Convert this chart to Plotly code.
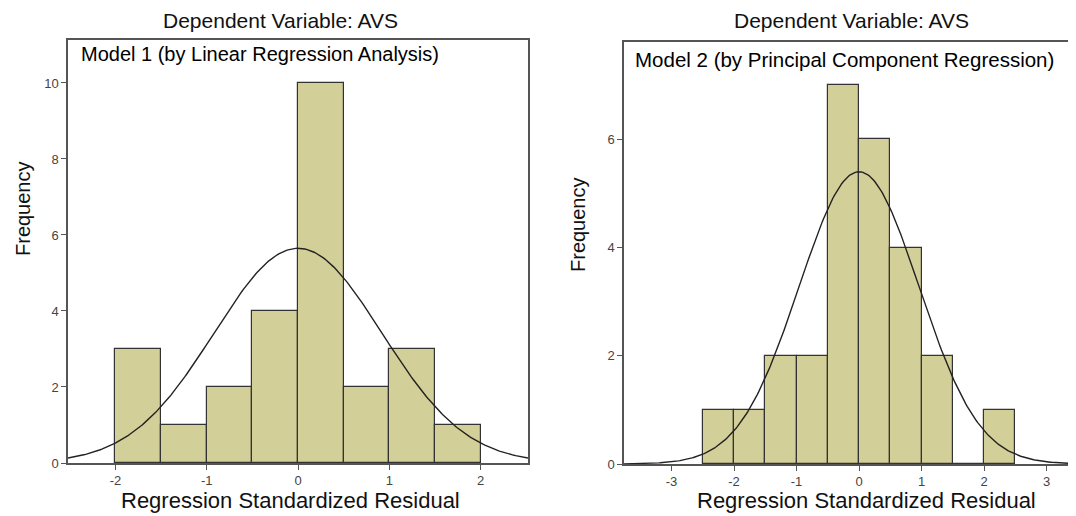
import numpy as np
import plotly.graph_objects as go

# ---- data ----
bin_width = 0.5
m1_bin_centers = [-1.75, -1.25, -0.75, -0.25, 0.25, 0.75, 1.25, 1.75]
m1_counts = [3, 1, 2, 4, 10, 2, 3, 1]
m1_mean, m1_std = 0.0, 0.918

m2_bin_centers = [-2.25, -1.75, -1.25, -0.75, -0.25, 0.25, 0.75, 1.25, 1.75, 2.25]
m2_counts = [1, 1, 2, 2, 7, 6, 4, 2, 0, 1]
m2_mean, m2_std = 0.0, 0.96

m1_xticks = [-2, -1, 0, 1, 2]
m1_xticktext = ["-2", "-1", "0", "1", "2"]
m1_yticks = [0, 2, 4, 6, 8, 10]
m2_xticks = [-3, -2, -1, 0, 1, 2, 3]
m2_xticktext = ["-3", "-2", "-1", "0", "1", "2", "3"]
m2_yticks = [0, 2, 4, 6]

title_text = "Dependent Variable: AVS"
m1_label = "Model 1 (by Linear Regression Analysis)"
m2_label = "Model 2 (by Principal Component Regression)"
x_title = "Regression Standardized Residual"
y_title = "Frequency"

m1_xrange = [-2.52, 2.52]
m1_yrange = [0, 11.13]
m2_xrange = [-3.76, 3.47]
m2_yrange = [0, 7.8]

BAR = "#D3CF98"
EDGE = "#333333"
FONT = "Liberation Sans, Arial, sans-serif"


def normal_curve(mean, std, counts, xr):
    n = sum(counts)
    xs = np.linspace(xr[0], xr[1], 300)
    ys = n * bin_width / (std * np.sqrt(2 * np.pi)) * np.exp(-0.5 * ((xs - mean) / std) ** 2)
    return xs, ys


fig = go.Figure()

fig.add_trace(go.Bar(x=m1_bin_centers, y=m1_counts, width=bin_width,
                     marker=dict(color=BAR, line=dict(color=EDGE, width=1.2)),
                     xaxis="x", yaxis="y", showlegend=False))
cx, cy = normal_curve(m1_mean, m1_std, m1_counts, m1_xrange)
fig.add_trace(go.Scatter(x=cx, y=cy, mode="lines", line=dict(color="#222222", width=1.4),
                         xaxis="x", yaxis="y", showlegend=False))

fig.add_trace(go.Bar(x=m2_bin_centers, y=m2_counts, width=bin_width,
                     marker=dict(color=BAR, line=dict(color=EDGE, width=1.2)),
                     xaxis="x2", yaxis="y2", showlegend=False))
cx2, cy2 = normal_curve(m2_mean, m2_std, m2_counts, m2_xrange)
fig.add_trace(go.Scatter(x=cx2, y=cy2, mode="lines", line=dict(color="#222222", width=1.4),
                         xaxis="x2", yaxis="y2", showlegend=False))

# page body has an 8px margin, so the figure is drawn offset by 8px
OFF = 8
W, H = 1076 - OFF, 516 - OFF
def px(x):
    return (x - OFF) / W
def py(y):
    return 1 - (y - OFF) / H

axis_common = dict(showgrid=False, zeroline=False, showline=True, linecolor="#555555",
                   linewidth=1.5, ticks="outside", ticklen=5, tickcolor="#555555",
                   automargin=False,
                   tickfont=dict(family=FONT, size=13, color="#444444"))

fig.update_layout(
    width=W, height=H,
    margin=dict(l=0, r=0, t=0, b=0),
    plot_bgcolor="white", paper_bgcolor="white",
    bargap=0,
    font=dict(family=FONT),
    xaxis=dict(domain=[px(68), px(528)], range=m1_xrange, tickvals=m1_xticks,
               ticktext=m1_xticktext, anchor="y", mirror=True, **axis_common),
    yaxis=dict(domain=[py(463), py(40)], range=m1_yrange, tickvals=m1_yticks,
               anchor="x", mirror=True, **axis_common),
    xaxis2=dict(domain=[px(624), 1.0], range=m2_xrange, tickvals=m2_xticks,
                ticktext=m2_xticktext, anchor="y2", mirror=True, **axis_common),
    yaxis2=dict(domain=[py(464), py(42)], range=m2_yrange, tickvals=m2_yticks,
                anchor="x2", mirror=False, **axis_common),
)

ann = []
# titles
ann.append(dict(text=title_text, x=px(280), y=py(21), xref="paper", yref="paper",
                showarrow=False, font=dict(family=FONT, size=21, color="#111111"),
                xanchor="center", yanchor="middle", borderpad=0))
ann.append(dict(text=title_text, x=px(851), y=py(21), xref="paper", yref="paper",
                showarrow=False, font=dict(family=FONT, size=21, color="#111111"),
                xanchor="center", yanchor="middle", borderpad=0))
# model labels
ann.append(dict(text=m1_label, x=px(79), y=py(54), xref="paper", yref="paper",
                showarrow=False, font=dict(family=FONT, size=20, color="#000000"),
                xanchor="left", yanchor="middle"))
ann.append(dict(text=m2_label, x=px(633), y=py(59), xref="paper", yref="paper",
                showarrow=False, font=dict(family=FONT, size=20.5, color="#000000"),
                xanchor="left", yanchor="middle"))
# x titles
ann.append(dict(text=x_title, x=px(290), y=py(500), xref="paper", yref="paper",
                showarrow=False, font=dict(family=FONT, size=22, color="#111111"),
                xanchor="center", yanchor="middle"))
ann.append(dict(text=x_title, x=px(866), y=py(500), xref="paper", yref="paper",
                showarrow=False, font=dict(family=FONT, size=22, color="#111111"),
                xanchor="center", yanchor="middle"))
# y titles
ann.append(dict(text=y_title, x=px(23), y=py(209), xref="paper", yref="paper",
                showarrow=False, textangle=-90, font=dict(family=FONT, size=20, color="#111111"),
                xanchor="center", yanchor="middle"))
ann.append(dict(text=y_title, x=px(578), y=py(225), xref="paper", yref="paper",
                showarrow=False, textangle=-90, font=dict(family=FONT, size=20, color="#111111"),
                xanchor="center", yanchor="middle"))
fig.update_layout(annotations=ann)

fig.write_html("out.html")
